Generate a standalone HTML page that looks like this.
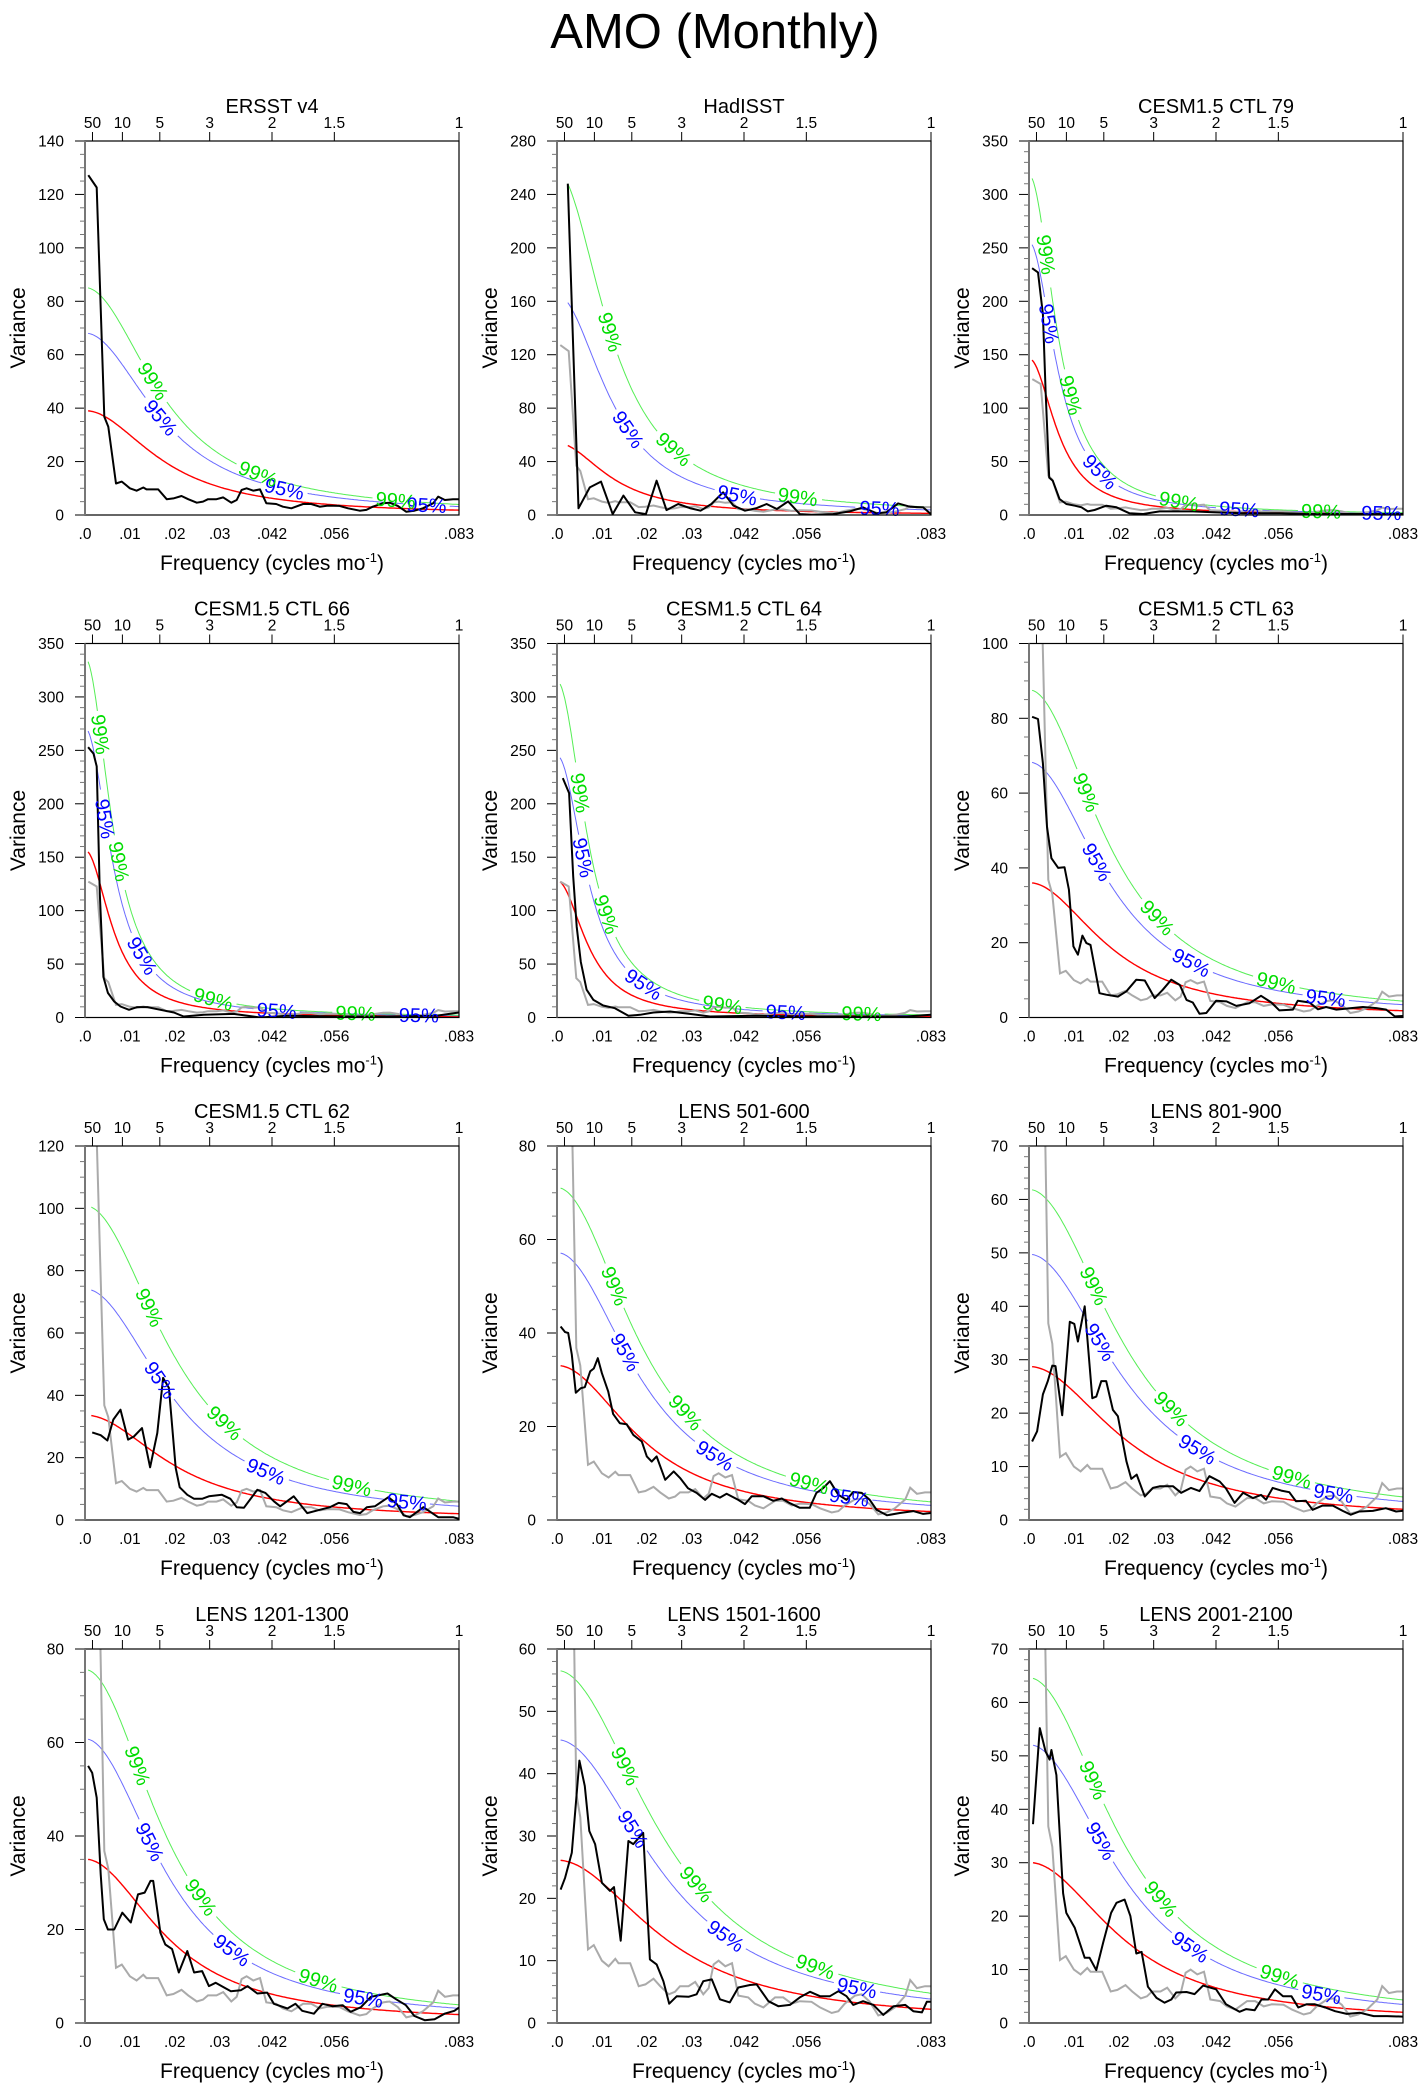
<!DOCTYPE html>
<html><head><meta charset="utf-8"><title>AMO (Monthly)</title>
<style>
html,body{margin:0;padding:0;background:#fff;}
svg{display:block;font-family:"Liberation Sans",Arial,sans-serif;}
</style></head>
<body>
<svg id="fig" width="1425" height="2091" viewBox="0 0 1425 2091" xmlns="http://www.w3.org/2000/svg">
<text x="715" y="48" font-size="49" text-anchor="middle" fill="#000">AMO (Monthly)</text>
</svg>
<script>
// ---- panel metadata ----
const titles = ["ERSST v4","HadISST","CESM1.5 CTL 79","CESM1.5 CTL 66","CESM1.5 CTL 64","CESM1.5 CTL 63","CESM1.5 CTL 62","LENS 501-600","LENS 801-900","LENS 1201-1300","LENS 1501-1600","LENS 2001-2100"];
const yMax   = [140,280,350,350,350,100,120,80,70,80,60,70];
const yMajor = [20,40,50,50,50,20,20,20,10,20,10,10];
const yMinor = [5,10,10,10,10,5,5,5,2,5,2,2];
// red-noise / significance curves: values at lowest frequency and red value at f=1/12
const redStart   = [39,52,145,155,127,36,33.5,33,28.7,35,26.1,30];
const redEnd     = [1.8,1.2,1.0,1.0,1.0,1.8,2.0,1.8,2.0,1.8,2.2,2.0];
const blueStart  = [68,159,253,268,243,68.2,73.8,57.1,49.7,60.7,45.4,52];
const greenStart = [85,248,315,333,312,87.5,100.4,71,61.8,75.5,56.5,64.5];
const curveF0    = [0.7,2.4,0.7,0.7,0.7,0.7,1.4,0.8,0.7,0.7,0.8,0.9]; // 1e-3 cycles/mo
// label positions (fraction of x range)
const lab99 = [[.18,.46,.83],[.14,.31,.64],[.045,.11,.40,.78],[.04,.09,.34,.72],[.06,.13,.44,.81],[.15,.34,.66],[.17,.37,.71],[.15,.34,.67],[.17,.38,.70],[.14,.31,.62],[.18,.37,.69],[.17,.35,.67]];
const lab95 = [[.20,.53,.91],[.19,.48,.86],[.05,.19,.56,.94],[.05,.15,.51,.89],[.07,.23,.61],[.18,.43,.79],[.20,.48,.86],[.18,.42,.78],[.19,.45,.81],[.17,.39,.74],[.20,.45,.80],[.19,.43,.78]];
// axis ticks
const xTickVals = [0,0.01,0.02,0.03,1/24,1/18,1/12];
const xTickLabels = [".0",".01",".02",".03",".042",".056",".083"];
const periodVals = [50,10,5,3,2,1.5,1];
const periodLabels = ["50","10","5","3","2","1.5","1"];

// ---- ERSST spectrum (grey reference), freq in 1e-3 cycles/mo ----
const greyF = [0.74,2.6,4.3,5.2,6.9,8.2,10,11.5,13,13.7,16.3,18.2,19.7,21.5,23,24.9,26.3,27.4,29.3,30.8,32.6,33.8,34.9,36,37.5,39,40.4,42.6,44.1,46,48.6,50.4,52.3,54.1,56.7,58.6,61.2,62.7,64.1,66.4,67.9,69.7,71.6,73.4,75.3,77.6,78.7,80.2,82,83.3];
const greyV = [127.2,122.6,36.8,33,11.8,12.5,10,9.1,10.3,9.6,9.6,5.9,6.2,7.1,5.9,4.6,5,5.9,5.9,6.6,4.6,5.6,9.4,10,9.1,9.6,4.4,4.1,3.1,2.5,4.1,4.1,3.1,3.5,3.4,2.5,1.6,1.9,3.1,4.4,4.6,3.4,1.2,1.6,2.5,4.4,6.9,5.6,5.9,5.9];

// ---- black spectra per panel ----
const blackF1 = greyF;
const blackV1 = greyV;
const blackF2 = [2.4,4.8,7.3,9.8,12.4,14.8,17.4,19.8,22.2,24.4,27,29.6,32,34.4,37,39.3,41.9,44.5,46.7,49,51.5,54.1,56.7,61.5,65.2,68.2,71.2,73.4,76,78.6,81.6,83.3];
const blackV2 = [248,5,20.7,25,0.7,14.5,2,0.7,25.7,3.7,8.2,5.2,3.2,8.2,17,7,3.2,5.2,8.2,4.5,10.2,0.7,0.2,0.7,2.7,5.7,1.2,2,8.7,6.2,5.7,0.7];
const blackF3 = [0.7,2,3.1,3.7,4.5,5.3,6.8,8.3,10.2,11.7,13.1,14.6,17.2,19.5,22.4,25.4,29.1,36.5,41,47.6,55.8,63.2,72.1,78,83.3];
const blackV3 = [231,227,188,116,35,32,15,10.3,8.7,7.2,3.4,4.7,8.7,7.2,1.6,0.9,3.4,3.4,2.5,1.6,1.6,0.9,0.9,0.9,0.9];
const blackF4 = [0.7,1.9,2.6,3.3,4.1,5.1,6.5,7.9,9.8,11.6,13.9,16.8,19.8,22,26.5,33.1,39,45,56.2,67.2,78.3,83.3];
const blackV4 = [253,247,235,116,38,23,15,10.3,7.2,9.7,9.7,7.2,4.7,0.9,2.5,3.4,0,1.6,0.9,0.9,1.6,4.7];
const blackF5 = [1.3,2.7,3.6,4.4,5.3,6.6,8.1,10.3,12.9,15.9,18.5,21.5,25.2,29.6,34.1,44.5,55.6,66.7,77.9,83.3];
const blackV5 = [224,210,132,85,52,26,16.5,11.2,8.7,1.6,2.5,4.7,5.6,3.4,0.9,1.6,0.9,0.9,0.9,2.5];
const blackF6 = [0.7,2,3.1,4,5,6.5,7.9,8.9,9.9,10.9,11.9,12.8,13.7,15.7,17.2,19.8,21.7,23.9,25.8,28,29.8,31.7,33.6,35.1,36.5,38,39.5,41.7,44,46.2,49.1,51.7,54,55.8,58.8,59.9,62.5,64.4,66.2,68.5,71.8,74.4,77.4,79.6,81.5,83.3];
const blackV6 = [80.4,79.8,68,51,42.6,40,40.2,34.2,19,16.8,21.9,19.9,19.4,6.5,6.1,5.6,7,10.1,9.9,5.2,7.4,10.1,8.7,4.7,4,1,1.2,4.5,4.3,3.1,3.8,5.8,4,1.9,2.1,4.5,4,2.2,2.8,2.1,2.5,2.8,2.5,2.1,0.3,0.4];
const blackF7 = [1.6,3.5,5,6.3,7.9,9.6,10.9,12.7,14.5,16.1,17.4,18.7,20.2,21.1,22.8,24.3,26.1,27.6,30.5,32.4,33.8,35.4,38.4,40.2,42.1,43.5,46.5,49.5,52.4,54.6,56.5,58.3,59.8,61.3,62.8,64.6,67.6,69.5,71,72.4,75.4,78.7,82,83.3];
const blackV7 = [28.1,27.2,25.5,32.2,35.4,25.8,26.8,29.5,16.9,27.9,45.6,42.4,16.7,10.5,8.1,6.8,6.8,7.6,8.1,6.8,4.1,3.9,9.7,8.7,6,4.4,7.6,2.2,3.3,4.1,5.5,5.1,2.6,2.2,4.1,4.4,7.3,5.1,1.5,0.9,4.1,0.9,0.9,0.4];
const blackF8 = [0.8,1.8,2.5,3.3,4.2,5.3,6.2,7.4,8.2,9.1,10,11.4,12.5,14,15.5,17,18.9,20,21.1,22.2,24.1,26,27.4,29.2,31.1,33,34.5,36.3,37.8,40.4,41.9,43.4,46,48.2,50.1,51.9,54.1,56.3,57.8,59.3,60.8,62.7,64.5,66,67.9,69.7,71.2,73.5,76.4,79.4,81.6,83.3];
const blackV8 = [41.4,40.2,40,35.4,27.2,28.2,28.4,31.8,32.4,34.6,31.4,27.5,22.7,20.7,20.5,18.2,16.8,13.6,12.5,13.6,8.6,10.4,9,6.8,5.8,4.3,5.6,4.8,5.6,4.3,3.4,5.1,5.1,4.1,4.6,3.6,2.6,2.6,5.8,6.8,8.3,5.4,4.3,6,5.8,4.3,2.2,1,1.5,1.9,1.3,1.5];
const blackF9 = [0.7,1.8,3.1,4.2,5.2,5.9,7.4,9.1,10.1,10.9,12.4,14.1,15,16.1,17.2,18.7,19.8,21.7,22.8,24,25.8,27.6,29.1,32.1,33.9,36.1,38,40.2,42.5,43.9,45.8,47.7,49.9,51.7,52.8,54.3,56.2,58,59.5,61.7,63.2,65.4,67.7,69.9,71.7,73.6,76.6,79.5,81.8,83.3];
const blackV9 = [14.7,16.6,23.5,26,28.9,28.8,19.6,37.1,36.7,33.4,40,22.8,23.1,26,26,20.6,19.4,11,7.7,8.5,4.4,6,6.3,6.3,5.1,6,5.4,8.2,7.2,5.9,3.2,5.1,4.1,4.7,3.8,6,5.5,5.2,3.5,3.6,1.9,2.7,2.7,1.7,1,1.6,1.7,2.2,1.6,1.7];
const blackF10 = [0.7,1.6,2.6,3.5,4.2,5.1,6.5,8.3,10.2,11.8,13.3,14.6,15.2,16.8,17.9,19.4,20.9,22.8,24.3,26.1,27.6,29.1,31,32.5,34.7,36.2,38.4,40.6,42.1,45.1,46.9,48.4,51,52.9,55.1,57.4,59.2,61.5,63.7,67.4,69.3,71.5,73.4,75.7,77.9,80.1,82.3,83.3];
const blackV10 = [55,53.5,48.2,31.8,22.2,20,20,23.6,21.5,27.5,27.9,30.4,30.4,19.3,16.8,15.8,10.8,15.4,10.8,11.1,7.9,8.6,7.6,6.8,7,7.9,6.3,6.5,4.1,3.1,4.1,2.6,2,4.1,3.6,3.8,2.4,3.4,5.6,6.3,5.1,3.8,1.5,0.6,0.8,2,2.6,3.3];
const blackF11 = [0.8,1.8,3.3,5,6.2,7.2,8.5,10,11.8,12.7,14.2,15.9,17,19.2,20.7,22.2,23.7,25,26.7,29.3,31.1,32.6,34.5,36.3,38.5,40.4,43,44.5,47.1,49.3,51.9,54.1,56.4,58.6,60.8,62.7,64.5,66,68.2,70.5,72.7,75,77.6,79.4,81.3,82.4,83.3];
const blackV11 = [21.4,23.3,27.3,42.1,38,30.8,28.7,22.5,21.2,21.8,13.2,29.2,28.7,30.5,10.2,9.4,6.7,3.1,4.3,4.2,4.6,6.7,7,3.8,3.3,5.7,6.1,6.2,3.5,2.7,2.9,4.1,5,4.3,4.3,5.1,4.3,2.9,3.5,2.9,1.3,2.7,2.9,1.9,1.7,3.4,3.4];
const blackF12 = [0.9,2.4,3.7,4.6,5,6.1,7.6,8.3,10.2,12.4,13.5,15,16.5,18.3,19.5,21.3,22.6,23.9,25.1,26.5,28.4,30.2,31.7,32.8,35.1,36.9,38.8,41.7,43.9,46.9,48.4,50.3,51.8,53.3,54.8,56.6,58.5,60,61.8,63.7,66,68.2,70.8,73.8,76.8,79.8,83.3];
const blackV12 = [37.2,55.2,50.8,49.3,51.1,46.4,24.3,20.6,17.8,12.2,12.2,9.9,15,20.6,22.5,23.1,20,13,13.3,6.8,4.7,3.8,4.4,5.7,5.8,5.4,7,6.3,3.5,2.1,2.6,2.4,4.4,4.4,6.3,5,5,2.9,3.5,3.5,2.9,2.2,1.7,1.9,1.3,1.3,1.2];
const blackF = [blackF1,blackF2,blackF3,blackF4,blackF5,blackF6,blackF7,blackF8,blackF9,blackF10,blackF11,blackF12];
const blackV = [blackV1,blackV2,blackV3,blackV4,blackV5,blackV6,blackV7,blackV8,blackV9,blackV10,blackV11,blackV12];

// ---- layout ----
const colX = [85,557,1029], rowY = [141,643.5,1146,1649], PW = 374, PH = 374, XMAX = 1/12;
const NS = "http://www.w3.org/2000/svg";
const svg = document.getElementById('fig');
function mk(tag, attrs, parent){ const e=document.createElementNS(NS,tag); for(const k in attrs) e.setAttribute(k,attrs[k]); (parent||svg).appendChild(e); return e; }

function solveR(ratio){ const k=(ratio-1)/(2*(1-Math.cos(Math.PI/6))); return ((2*k+1)-Math.sqrt(4*k+1))/(2*k); }

for(let p=0;p<12;p++){
  const L = colX[p%3], T = rowY[Math.floor(p/3)], B = T+PH, R = L+PW;
  const xs = f => L + f/XMAX*PW;
  const ys = v => B - v/yMax[p]*PH;
  const g = mk('g',{});
  
  
  const clipId='clip'+p;
  const cp = mk('clipPath',{id:clipId},g); mk('rect',{x:L,y:T,width:PW,height:PH},cp);

  // title
  const tt = mk('text',{x:L+PW/2,y:T-28,'font-size':20,'text-anchor':'middle'},g); tt.textContent=titles[p];
   

  // y ticks
  for(let v=0; v<=yMax[p]+1e-9; v+=yMinor[p]){
    const isMaj = Math.abs(v/yMajor[p]-Math.round(v/yMajor[p]))<1e-6;
    mk('line',{x1:L-(isMaj?10:5),x2:L,y1:ys(v),y2:ys(v),stroke:isMaj?'#000':'#777','stroke-width':1},g);
    if(isMaj){ const t=mk('text',{x:L-21,y:ys(v)+5.5,'font-size':15.5,'text-anchor':'end'},g); t.textContent=String(Math.round(v));
        }
  }
  // x tick labels
  xTickVals.forEach((f,i)=>{ const t=mk('text',{x:xs(f),y:B+24,'font-size':15.5,'text-anchor':'middle'},g); t.textContent=xTickLabels[i];
      });
  // top period ticks
  periodVals.forEach((P,i)=>{ const x=xs(1/(12*P)); mk('line',{x1:x,x2:x,y1:T-9,y2:T,stroke:'#000','stroke-width':1},g);
    const t=mk('text',{x:x,y:T-13,'font-size':15.5,'text-anchor':'middle'},g); t.textContent=periodLabels[i];
      });
  // axis titles
  const xt = mk('text',{x:L+PW/2,y:B+55,'font-size':21,'text-anchor':'middle'},g);
  xt.innerHTML = 'Frequency (cycles mo<tspan dy="-8" font-size="13">-1</tspan><tspan dy="8">)</tspan>';
   
  const yt = mk('text',{x:0,y:0,'font-size':21,'text-anchor':'middle',transform:`translate(${L-60},${T+PH/2}) rotate(-90)`},g);
  yt.textContent='Variance';
   

  const data = mk('g',{'clip-path':`url(#${clipId})`},g);
  // theoretical curves
  const r = solveR(redStart[p]/redEnd[p]);
  const f0 = curveF0[p]/1000;
  const red = f => redStart[p]*(1-r)*(1-r)/(1-2*r*Math.cos(2*Math.PI*f)+r*r) * ((1-2*r*Math.cos(2*Math.PI*f0)+r*r)/((1-r)*(1-r)));
  const pts = []; for(let i=0;i<=240;i++){ const f=f0+(XMAX-f0)*i/240; pts.push([f, red(f)]); }
  function curve(scale, color, width, labFr, labTxt, labColor, name){
    const P = pts.map(([f,v])=>[xs(f), ys(v*scale)]);
    const labs = labFr.map(fr=>{ const x=L+fr*PW; let k=0; while(k<P.length-1 && P[k][0]<x) k++; return k; });
    let d='', pen=false;
    P.forEach((q,i)=>{ const near = labs.some(k=>Math.hypot(q[0]-P[k][0],q[1]-P[k][1])<23);
      if(near){pen=false;return;} d += (pen?'L':'M')+q[0].toFixed(1)+','+q[1].toFixed(1); pen=true; });
    const path = mk('path',{d:d,fill:'none',stroke:color,'stroke-width':width},data);
     
    labs.forEach(k=>{ const a=P[Math.max(0,k-2)], b=P[Math.min(P.length-1,k+2)];
      const ang = Math.atan2(b[1]-a[1], b[0]-a[0])*180/Math.PI;
      if(labTxt){ const t = mk('text',{x:0,y:0,'font-size':20,'text-anchor':'middle',fill:labColor,transform:`translate(${P[k][0]},${P[k][1]}) rotate(${ang}) translate(0,7)`},g);
        t.textContent=labTxt;   } });
  }
  curve(1,'#ff0000',1.4,[],null,null,'red-noise-curve');
  curve(blueStart[p]/redStart[p],'#6b6bff',1,lab95[p],'95%','#0000ff','ci95-curve');
  curve(greenStart[p]/redStart[p],'#55ee55',1,lab99[p],'99%','#00dd00','ci99-curve');
  // grey reference
  if(p>0){ const d = greyF.map((f,i)=>(i?'L':'M')+xs(f/1000).toFixed(1)+','+ys(greyV[i]).toFixed(1)).join('');
    const gp = mk('path',{d:d,fill:'none',stroke:'#aaaaaa','stroke-width':2},data);
      }
  // black spectrum
  const bd = blackF[p].map((f,i)=>(i?'L':'M')+xs(f/1000).toFixed(1)+','+ys(blackV[p][i]).toFixed(1)).join('');
  const bp = mk('path',{d:bd,fill:'none',stroke:'#000','stroke-width':2,'stroke-linejoin':'round'},data);
   
  // frame
  const fr = mk('rect',{x:L,y:T,width:PW,height:PH,fill:'none',stroke:'#000','stroke-width':1.2},g);
   
  mk('line',{x1:L,x2:L,y1:T,y2:B,stroke:'#777','stroke-width':2},g);
}
</script>
</body></html>
